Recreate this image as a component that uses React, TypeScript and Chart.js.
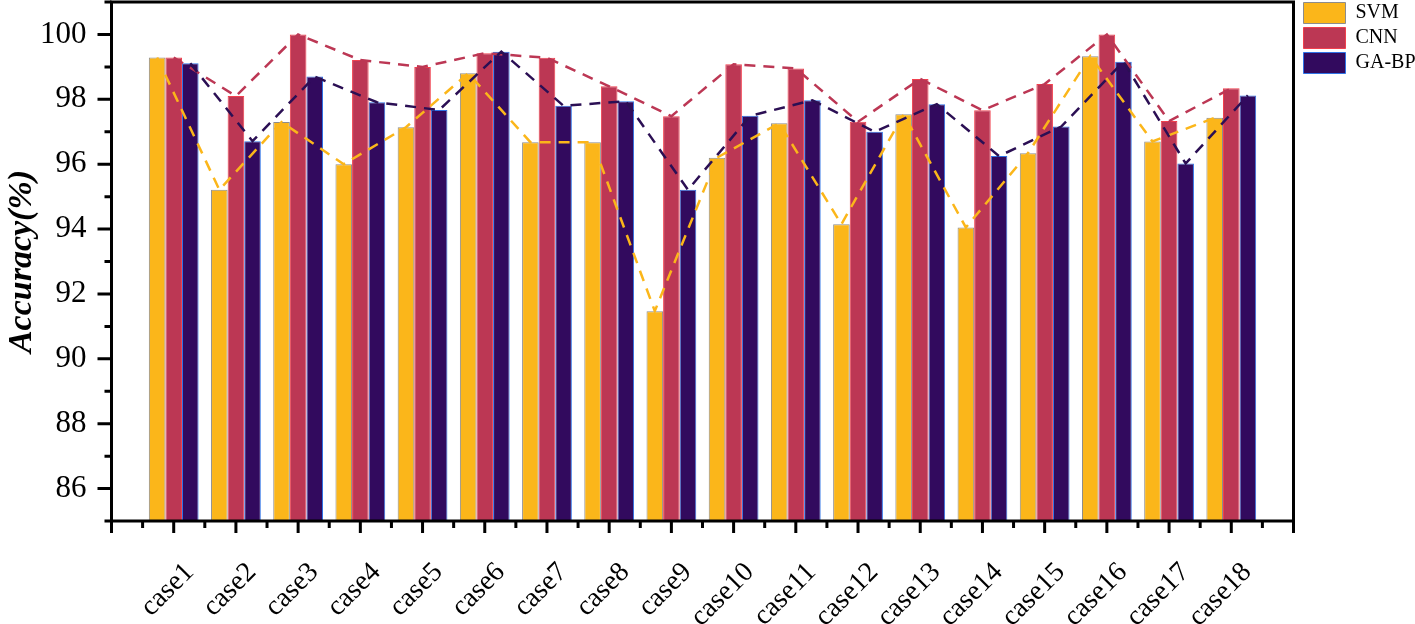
import React, { useEffect, useRef } from 'react';
import { Chart, registerables } from 'chart.js';

Chart.register(...registerables);

const categories = [
  'case1', 'case2', 'case3', 'case4', 'case5', 'case6', 'case7', 'case8', 'case9',
  'case10', 'case11', 'case12', 'case13', 'case14', 'case15', 'case16', 'case17', 'case18',
];
const svmValues = [99.29, 95.21, 97.3, 96.0, 97.14, 98.8, 96.68, 96.68, 91.47, 96.2, 97.26, 94.15, 97.54, 94.05, 96.34, 99.33, 96.7, 97.43];
const cnnValues = [99.29, 98.1, 100.0, 99.21, 99.0, 99.42, 99.28, 98.4, 97.48, 99.08, 98.95, 97.31, 98.63, 97.66, 98.47, 100.0, 97.33, 98.34];
const gabpValues = [99.11, 96.71, 98.7, 97.91, 97.67, 99.47, 97.8, 97.94, 95.21, 97.49, 97.97, 97.0, 97.85, 96.25, 97.16, 99.16, 96.02, 98.12];
const seriesNames = ['SVM', 'CNN', 'GA-BP'];
const yTickValues = [85, 86, 87, 88, 89, 90, 91, 92, 93, 94, 95, 96, 97, 98, 99, 100, 101];
const yLabelValues = [86, 88, 90, 92, 94, 96, 98, 100];
const yTitle = 'Accuracy(%)';

const FONT = '"Liberation Serif", "Times New Roman", serif';
const barFill = ['#FBB61A', '#BC3754', '#320A5E'];
const barBorder = ['#8C8C8C', '#F0404E', '#2F73E6'];
const lineColor = ['#FBB61A', '#BC3754', '#2B0F54'];

export default function App() {
  const ref = useRef<HTMLCanvasElement>(null);

  useEffect(() => {
    if (!ref.current) return;
    const labels = ['', ...categories, ''];
    const pad = (arr: number[]) => [null, ...arr, null];
    const series = [svmValues, cnnValues, gabpValues];

    const bars = series.map((vals, k) => ({
      type: 'bar' as const,
      label: seriesNames[k],
      data: pad(vals),
      backgroundColor: barFill[k],
      borderColor: barBorder[k],
      borderWidth: 1,
      categoryPercentage: 0.8,
      barPercentage: 1,
    }));

    // dashed trend lines through the top-centre of each bar (bar elements come from the chart's scales)
    const trendLines = {
      id: 'trendLines',
      afterDatasetsDraw(chart: any) {
        const { ctx, chartArea: a } = chart;
        ctx.save();
        ctx.beginPath();
        ctx.rect(a.left, a.top, a.right - a.left, a.bottom - a.top);
        ctx.clip();
        ctx.lineWidth = 2.5;
        ctx.setLineDash([11, 8]);
        ctx.lineCap = 'butt';
        for (let k = 0; k < series.length; k++) {
          const meta = chart.getDatasetMeta(k);
          const ds = chart.data.datasets[k];
          ctx.strokeStyle = lineColor[k];
          ctx.beginPath();
          let started = false;
          meta.data.forEach((el: any, i: number) => {
            if (ds.data[i] == null) return;
            if (!started) { ctx.moveTo(el.x, el.y); started = true; }
            else ctx.lineTo(el.x, el.y);
          });
          ctx.stroke();
        }
        ctx.restore();
      },
    };

    const frameAndTicks = {
      id: 'frameAndTicks',
      afterLayout(chart: any) {
        const lg = chart.legend;
        if (lg) {
          lg.left += 6; lg.right += 6;
          lg.top -= 3.5; lg.bottom -= 3.5;
        }
      },
      afterDraw(chart: any) {
        const { ctx, chartArea: a } = chart;
        const xs = chart.scales.x;
        const ys = chart.scales.y;
        ctx.save();
        ctx.strokeStyle = '#000';
        ctx.lineWidth = 3;
        ctx.lineCap = 'butt';
        ctx.strokeRect(a.left, a.top, a.right - a.left, a.bottom - a.top);
        ctx.beginPath();
        for (let i = 0; i < labels.length; i++) {
          const px = xs.getPixelForValue(i);
          ctx.moveTo(px, a.bottom);
          ctx.lineTo(px, a.bottom + 12);
          if (i < labels.length - 1) {
            const hx = (px + xs.getPixelForValue(i + 1)) / 2;
            ctx.moveTo(hx, a.bottom);
            ctx.lineTo(hx, a.bottom + 7);
          }
        }
        for (const v of yTickValues) {
          const py = ys.getPixelForValue(v);
          ctx.moveTo(a.left, py);
          ctx.lineTo(a.left - (v % 2 === 0 ? 14 : 7), py);
        }
        ctx.stroke();
        ctx.restore();
      },
    };

    const isLabelled = (v: any) => yLabelValues.includes(Number(v));

    const chart = new Chart(ref.current, {
      type: 'bar',
      data: { labels, datasets: bars as any },
      options: {
        animation: false,
        responsive: true,
        maintainAspectRatio: false,
        devicePixelRatio: 1,
        layout: { padding: { top: 2, left: 0, right: 0, bottom: 0 } },
        plugins: {
          tooltip: { enabled: false },
          legend: {
            position: 'right',
            align: 'start',
            maxWidth: 121.5,
            labels: {
              boxWidth: 42,
              boxHeight: 21,
              padding: 4,
              color: '#000',
              font: { family: FONT, size: 20 },
            },
          },
        },
        scales: {
          x: {
            type: 'category',
            offset: false,
            grid: { display: false, drawTicks: false, offset: false },
            border: { display: false },
            ticks: {
              autoSkip: false,
              minRotation: 45,
              maxRotation: 45,
              padding: 35,
              labelOffset: 16,
              color: '#000',
              font: (c: any) => ({ family: FONT, size: labels[c.index] ? 28 : 1 }),
              callback: (_v: any, i: number) => labels[i],
            },
            afterFit: (s: any) => { s.height = 103; },
          },
          y: {
            type: 'linear',
            min: 85,
            max: 101,
            afterBuildTicks: (s: any) => { s.ticks = yTickValues.map((v) => ({ value: v })); },
            grid: {
              display: true,
              drawOnChartArea: false,
              drawTicks: true,
              tickLength: 25,
              tickColor: 'rgba(0,0,0,0)',
              color: 'rgba(0,0,0,0)',
            },
            border: { display: false },
            ticks: {
              autoSkip: false,
              padding: 0,
              color: '#000',
              font: (c: any) => ({ family: FONT, size: isLabelled(yTickValues[c.index]) ? 31 : 1 }),
              callback: (v: any) => (isLabelled(v) ? String(v) : ''),
            },
            title: {
              display: true,
              text: yTitle,
              color: '#000',
              font: { family: FONT, size: 34, weight: 'bold', style: 'italic', lineHeight: 1 },
              padding: { top: 5, bottom: 2 },
            },
            afterFit: (s: any) => { s.width = 111.5; },
          },
        },
      } as any,
      plugins: [trendLines, frameAndTicks],
    });
    return () => chart.destroy();
  }, []);

  return (
    <div style={{ position: 'fixed', left: 0, top: 0, width: 1415, height: 624, background: '#fff' }}>
      <canvas ref={ref} />
    </div>
  );
}
